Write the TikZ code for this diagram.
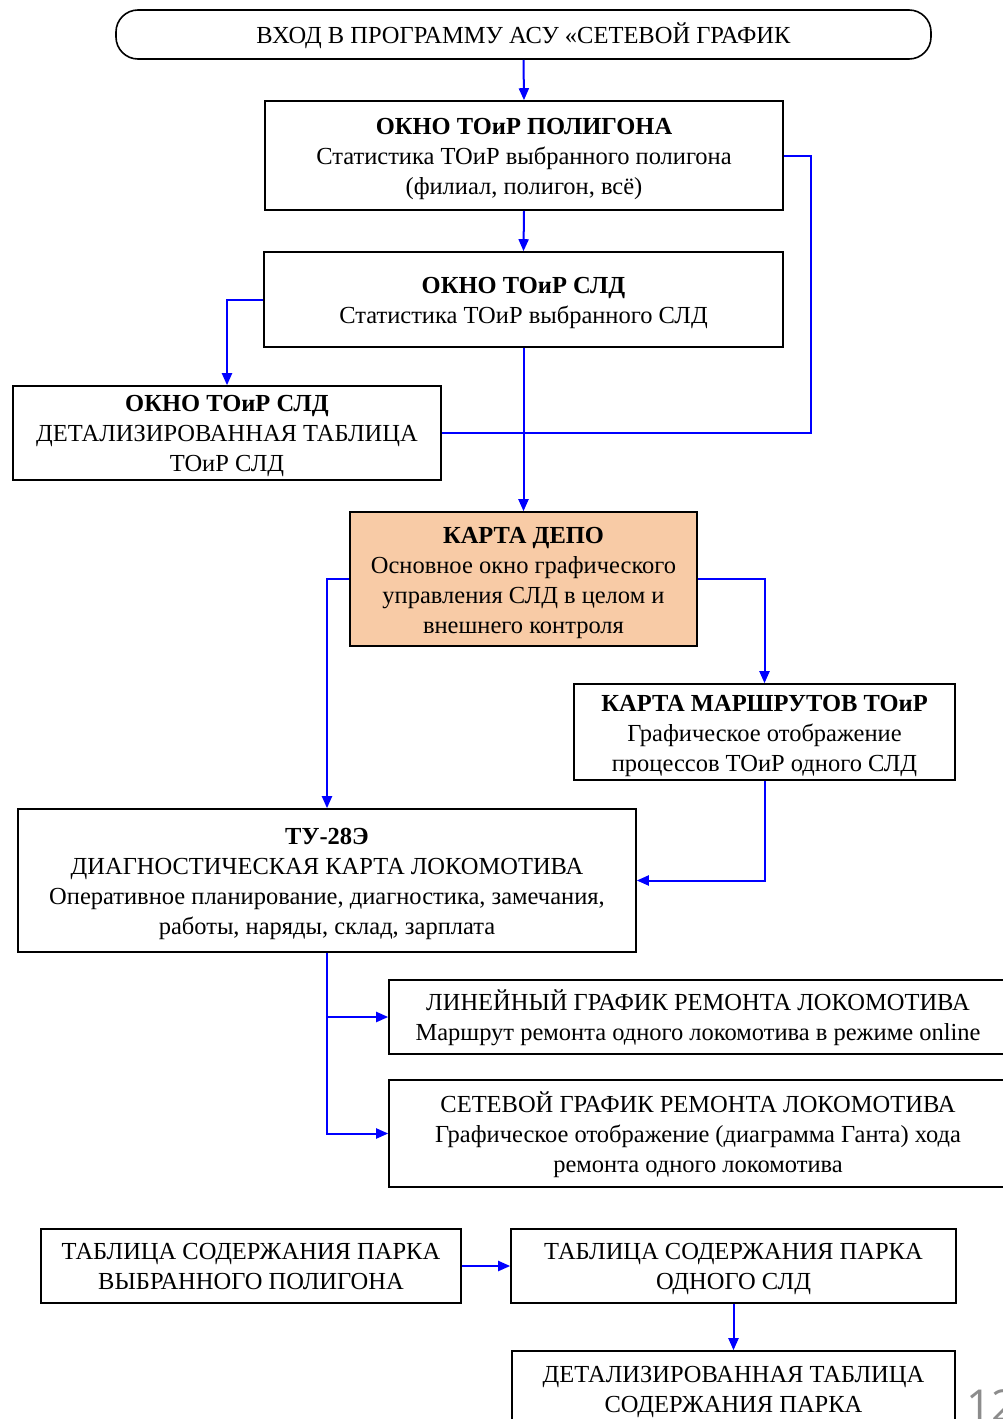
\documentclass[tikz,border=0pt]{standalone}
\usepackage{fontspec}
\setmainfont{Liberation Serif}
\newfontfamily\pgnumfont{Open Sans}
\usetikzlibrary{arrows.meta}
\definecolor{depofill}{RGB}{248,203,166}
\newcommand\boxstrut{\rule[-6pt]{0pt}{29pt}}
\begin{document}
\begin{tikzpicture}[x=1pt,y=-1pt,
  box/.style={draw=black, line width=1.6pt, inner sep=0pt},
  txt/.style={align=center, inner sep=0pt, font=\fontsize{24.5}{30}\selectfont},
  conn/.style={draw=blue, line width=2pt},
  arr/.style={conn, -{Triangle[length=12pt,width=10pt]}}]
\useasboundingbox (0,0) rectangle (1003,1419);
\clip (0,0) rectangle (1003,1419);
\fill[white] (0,0) rectangle (1003,1419);

\node[box, txt, rounded corners=22pt, minimum width=815pt, minimum height=49pt] (start) at (523.5,34.5) {\boxstrut ВХОД В ПРОГРАММУ АСУ «СЕТЕВОЙ ГРАФИК};

\node[box, minimum width=518pt, minimum height=109pt] (b2) at (524,155.5) {};
\node[txt] (b2t) at ([yshift=-3.5pt]b2.center) {\textbf{ОКНО ТОиР ПОЛИГОНА}\\Статистика ТОиР выбранного полигона\\(филиал, полигон, всё)};

\node[box, minimum width=519pt, minimum height=95pt] (b3) at (523.5,299.5) {};
\node[txt] (b3t) at ([yshift=-3pt]b3.center) {\textbf{ОКНО ТОиР СЛД}\\Статистика ТОиР выбранного СЛД};

\node[box, minimum width=428pt, minimum height=94pt] (b4) at (227,433) {};
\node[txt] (b4t) at ([yshift=-3pt]b4.center) {\textbf{ОКНО ТОиР СЛД}\\ДЕТАЛИЗИРОВАННАЯ ТАБЛИЦА\\ТОиР СЛД};

\node[box, fill=depofill, minimum width=347pt, minimum height=134pt] (depo) at (523.5,579) {};
\node[txt] (depot) at ([yshift=-3.5pt]depo.center) {\textbf{КАРТА ДЕПО}\\Основное окно графического\\управления СЛД в целом и\\внешнего контроля};

\node[box, minimum width=381pt, minimum height=96pt] (route) at (764.5,732) {};
\node[txt] (routet) at ([yshift=-3.5pt]route.center) {\textbf{КАРТА МАРШРУТОВ ТОиР}\\Графическое отображение\\процессов ТОиР одного СЛД};

\node[box, minimum width=618pt, minimum height=143pt] (tu) at (327,880.5) {};
\node[txt] (tut) at ([yshift=-3pt]tu.center) {\textbf{ТУ-28Э}\\ДИАГНОСТИЧЕСКАЯ КАРТА ЛОКОМОТИВА\\Оперативное планирование, диагностика, замечания,\\работы, наряды, склад, зарплата};

\node[box, minimum width=618pt, minimum height=74pt] (lin) at (698,1017) {};
\node[txt] (lint) at ([yshift=-1pt]lin.center) {ЛИНЕЙНЫЙ ГРАФИК РЕМОНТА ЛОКОМОТИВА\\Маршрут ремонта одного локомотива в режиме online};

\node[box, minimum width=618pt, minimum height=107pt] (set) at (698,1133.5) {};
\node[txt] (sett) at ([yshift=-1pt]set.center) {СЕТЕВОЙ ГРАФИК РЕМОНТА ЛОКОМОТИВА\\Графическое отображение (диаграмма Ганта) хода\\ремонта одного локомотива};

\node[box, minimum width=420pt, minimum height=74pt] (t1) at (251,1266) {};
\node[txt] (t1t) at (t1.center) {\boxstrut ТАБЛИЦА СОДЕРЖАНИЯ ПАРКА\\ВЫБРАННОГО ПОЛИГОНА\boxstrut};

\node[box, minimum width=445pt, minimum height=74pt] (t2) at (733.5,1266) {};
\node[txt] (t2t) at (t2.center) {\boxstrut ТАБЛИЦА СОДЕРЖАНИЯ ПАРКА\\ОДНОГО СЛД\boxstrut};

\node[box, minimum width=443pt, minimum height=78pt] (t3) at (733.5,1390) {};
\node[txt] (t3t) at ([yshift=1pt]t3.center) {\boxstrut ДЕТАЛИЗИРОВАННАЯ ТАБЛИЦА\\СОДЕРЖАНИЯ ПАРКА\boxstrut};

\node[anchor=north west, inner sep=0pt, text=black!45, font=\pgnumfont\fontsize{44}{44}\selectfont] (pg) at (966,1389) {12};

\draw[arr] (start.south) -- (b2.north);
\draw[arr] (b2.south) -- (b3.north);
\draw[arr] (b3.west) -| (b4.north);
\draw[conn] (b2.east) -- ++(27,0) |- (b4.east);
\draw[arr] (b3.south) -- (depo.north);
\draw[arr] (depo.west) -| (tu.north);
\draw[arr] (depo.east) -| (route.north);
\draw[arr] (route.south) |- (tu.east);
\draw[arr] (tu.south) |- (lin.west);
\draw[arr] (tu.south) |- (set.west);
\draw[arr] (t1.east) -- (t2.west);
\draw[arr] (t2.south) -- (t3.north);
\end{tikzpicture}
\end{document}
